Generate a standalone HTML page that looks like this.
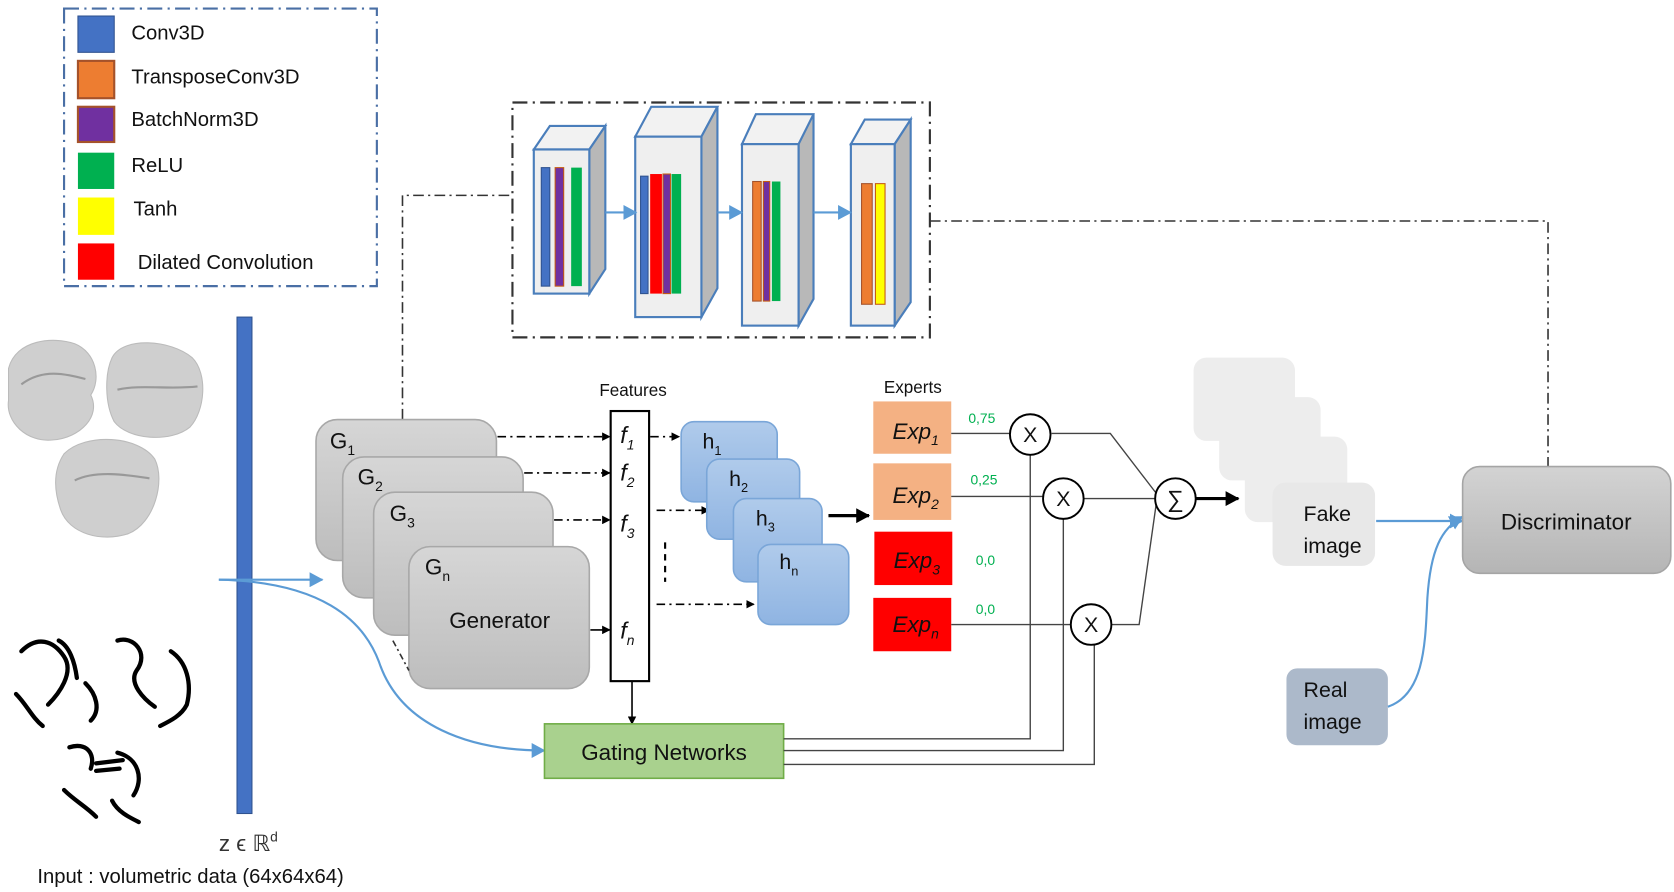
<!DOCTYPE html>
<html><head><meta charset="utf-8"><style>
html,body{margin:0;padding:0;background:#fff;}
svg{display:block;}
text{font-family:"Liberation Sans",sans-serif;}
</style></head><body>
<svg width="1674" height="892" viewBox="0 0 1568 835.5" xmlns="http://www.w3.org/2000/svg">
<defs>
<linearGradient id="gg" x1="0" y1="0" x2="0" y2="1"><stop offset="0" stop-color="#d6d6d6"/><stop offset="1" stop-color="#bdbdbd"/></linearGradient>
<linearGradient id="hb" x1="0" y1="0" x2="0" y2="1"><stop offset="0" stop-color="#b0cbeb"/><stop offset="1" stop-color="#8fb4e2"/></linearGradient>
<linearGradient id="dg" x1="0" y1="0" x2="0" y2="1"><stop offset="0" stop-color="#d3d3d3"/><stop offset="1" stop-color="#b5b5b5"/></linearGradient>
<marker id="ab" markerWidth="8" markerHeight="8" refX="7" refY="4" orient="auto" markerUnits="userSpaceOnUse"><path d="M0,0 L8,4 L0,8 z" fill="#000"/></marker>
<marker id="abl" markerWidth="14" markerHeight="14" refX="12" refY="7" orient="auto" markerUnits="userSpaceOnUse"><path d="M0,0 L13,7 L0,14 z" fill="#5b9bd5"/></marker>
<marker id="abk" markerWidth="14" markerHeight="14" refX="12" refY="7" orient="auto" markerUnits="userSpaceOnUse"><path d="M0,0 L13,7 L0,14 z" fill="#000"/></marker>
</defs>

<!-- Legend -->
<rect x="60" y="8" width="293" height="260" fill="none" stroke="#4a6fa5" stroke-width="2" stroke-dasharray="14,5,2,5"/>
<rect x="73" y="15" width="34" height="34" fill="#4472c4" stroke="#2f528f"/>
<rect x="73" y="57" width="34" height="35" fill="#ed7d31" stroke="#a5522a" stroke-width="2"/>
<rect x="73" y="100" width="34" height="33" fill="#7030a0" stroke="#a5522a" stroke-width="2"/>
<rect x="73" y="143" width="34" height="34" fill="#00b050"/>
<rect x="73" y="185" width="34" height="35" fill="#ffff00"/>
<rect x="73" y="228" width="34" height="34" fill="#ff0000"/>
<g font-size="19" fill="#111">
<text x="123" y="37">Conv3D</text>
<text x="123" y="78">TransposeConv3D</text>
<text x="123" y="118">BatchNorm3D</text>
<text x="123" y="161">ReLU</text>
<text x="125" y="202">Tanh</text>
<text x="129" y="252">Dilated Convolution</text>
</g>

<!-- Top box -->
<rect x="480" y="96" width="391" height="220" fill="none" stroke="#333" stroke-width="2" stroke-dasharray="14,5,2,5"/>
<g stroke="#4a7ebb" stroke-width="2">
<polygon points="500,140 515,118 567,118 552,140" fill="#f2f2f2"/>
<polygon points="552,140 567,118 567,252 552,275" fill="#b8b8b8"/>
<rect x="500" y="140" width="52" height="135" fill="#efefef"/>
<polygon points="595,128 610,100 672,100 657,128" fill="#f2f2f2"/>
<polygon points="657,128 672,100 672,270 657,297" fill="#b8b8b8"/>
<rect x="595" y="128" width="62" height="169" fill="#efefef"/>
<polygon points="695,135 708,107 762,107 757,135" fill="#f2f2f2"/>
<polygon points="748,135 762,107 762,280 748,305" fill="#b8b8b8"/>
<rect x="695" y="135" width="53" height="170" fill="#efefef"/>
<polygon points="797,135 810,112 853,112 838,135" fill="#f2f2f2"/>
<polygon points="838,135 853,112 853,283 838,305" fill="#b8b8b8"/>
<rect x="797" y="135" width="41" height="170" fill="#efefef"/>
</g>
<rect x="507" y="157" width="8" height="111" fill="#4472c4" stroke="#2f528f"/>
<rect x="520" y="157" width="8" height="111" fill="#7030a0" stroke="#c55a11"/>
<rect x="535" y="157" width="10" height="111" fill="#00b050"/>
<rect x="600" y="165" width="7" height="110" fill="#4472c4" stroke="#2f528f"/>
<rect x="609" y="163" width="11" height="112" fill="#ff0000"/>
<rect x="621" y="163" width="7" height="112" fill="#7030a0" stroke="#c55a11"/>
<rect x="629" y="163" width="9" height="112" fill="#00b050"/>
<rect x="705" y="170" width="8" height="112" fill="#ed7d31" stroke="#a5522a"/>
<rect x="715" y="170" width="6" height="112" fill="#7030a0" stroke="#c55a11"/>
<rect x="723" y="170" width="8" height="112" fill="#00b050"/>
<rect x="807" y="172" width="10" height="113" fill="#ed7d31" stroke="#a5522a"/>
<rect x="820" y="172" width="9" height="113" fill="#ffff00" stroke="#c55a11"/>
<g stroke="#5b9bd5" stroke-width="2" marker-end="url(#abl)">
<line x1="567" y1="199" x2="596" y2="199"/>
<line x1="672" y1="199" x2="695" y2="199"/>
<line x1="762" y1="199" x2="797" y2="199"/>
</g>

<!-- dash-dot connectors -->
<g fill="none" stroke="#333" stroke-width="1.5" stroke-dasharray="10,4,2,4">
<polyline points="377,393 377,183 480,183"/>
<polyline points="871,207 1450,207 1450,437"/>
</g>

<!-- blobs -->
<g fill="#cfcfcf" stroke="#bbb">
<path d="M8,345 C15,318 50,315 70,322 C90,330 95,355 85,370 C95,390 75,410 50,412 C25,415 5,395 8,375 Z"/>
<path d="M105,335 C115,315 160,318 180,335 C195,350 192,385 178,400 C160,415 120,412 107,395 C98,378 98,350 105,335 Z"/>
<path d="M60,425 C80,405 130,408 145,430 C155,450 145,490 120,500 C95,508 65,500 57,478 C50,458 50,440 60,425 Z"/>
</g>
<g fill="none" stroke="#999" stroke-width="2">
<path d="M20,360 C40,345 60,350 80,355"/><path d="M110,365 C130,360 160,365 185,362"/><path d="M70,450 C90,440 120,445 140,448"/>
</g>
<!-- scribbles -->
<g fill="none" stroke="#000" stroke-width="4" stroke-linecap="round">
<path d="M20,610 C35,595 50,600 60,615 C70,630 55,650 45,660"/>
<path d="M15,650 C25,660 30,672 40,680"/>
<path d="M55,600 C65,605 70,620 72,635"/>
<path d="M110,600 C125,595 140,612 128,628 C120,640 135,655 145,662"/>
<path d="M160,610 C175,620 180,640 175,660 C170,670 160,675 150,680"/>
<path d="M80,640 C90,650 95,665 85,675"/>
<path d="M65,700 C80,695 90,705 85,720"/>
<path d="M110,705 C130,710 135,730 125,745"/>
<path d="M90,715 L115,712"/><path d="M90,722 L112,720"/>
<path d="M60,740 C70,750 80,755 90,765"/>
<path d="M105,750 C110,760 120,765 130,770"/>
</g>

<!-- z bar -->
<rect x="222" y="297" width="14" height="465" fill="#4472c4" stroke="#2f528f"/>
<text x="205" y="797" font-family="Liberation Serif,serif" font-size="21" fill="#333">z ϵ ℝ<tspan font-size="13" dy="-9">d</tspan></text>
<text x="35" y="827" font-size="19" fill="#111">Input : volumetric data (64x64x64)</text>

<!-- blue arrows from z -->
<line x1="205" y1="543" x2="302" y2="543" stroke="#5b9bd5" stroke-width="2" marker-end="url(#abl)"/>
<path d="M205,543 C300,545 340,580 355,620 C375,680 440,703 510,703" fill="none" stroke="#5b9bd5" stroke-width="2" marker-end="url(#abl)"/>

<!-- Generators -->
<g stroke="#a8a8a8" stroke-width="1.5" fill="url(#gg)">
<rect x="296" y="393" width="169" height="132" rx="20"/>
<rect x="321" y="428" width="169" height="132" rx="20"/>
<rect x="350" y="461" width="168" height="134" rx="20"/>
<rect x="383" y="512" width="169" height="133" rx="20"/>
</g>
<g font-size="21" fill="#111">
<text x="309" y="420">G<tspan font-size="13" dy="6">1</tspan></text>
<text x="335" y="454">G<tspan font-size="13" dy="6">2</tspan></text>
<text x="365" y="488">G<tspan font-size="13" dy="6">3</tspan></text>
<text x="398" y="538">G<tspan font-size="13" dy="6">n</tspan></text>
<text x="468" y="588" text-anchor="middle" font-size="21">Generator</text>
</g>
<line x1="368" y1="600" x2="383" y2="628" stroke="#333" stroke-width="1.5" stroke-dasharray="6,3,2,3"/>

<!-- Features -->
<text x="593" y="371" font-size="16" text-anchor="middle" fill="#111">Features</text>
<rect x="572" y="385" width="36" height="253" fill="#fff" stroke="#000" stroke-width="2"/>
<g font-family="Liberation Serif,serif" font-style="italic" font-size="22" fill="#111">
<text x="581" y="415">f<tspan font-size="13" dy="6">1</tspan></text>
<text x="581" y="450">f<tspan font-size="13" dy="6">2</tspan></text>
<text x="581" y="498">f<tspan font-size="13" dy="6">3</tspan></text>
<text x="581" y="598">f<tspan font-size="13" dy="6">n</tspan></text>
</g>
<g stroke="#000" stroke-width="1.5" stroke-dasharray="8,4,2,4" marker-end="url(#ab)">
<line x1="466" y1="409" x2="571" y2="409"/>
<line x1="491" y1="443" x2="571" y2="443"/>
<line x1="519" y1="487" x2="571" y2="487"/>
<line x1="609" y1="409" x2="636" y2="409"/>
<line x1="615" y1="478" x2="664" y2="478"/>
<line x1="615" y1="566" x2="706" y2="566"/>
</g>
<line x1="553" y1="590" x2="571" y2="590" stroke="#000" stroke-width="1.5" marker-end="url(#ab)"/>
<line x1="623" y1="508" x2="623" y2="545" stroke="#000" stroke-width="2" stroke-dasharray="6,5"/>
<line x1="592" y1="638" x2="592" y2="678" stroke="#000" stroke-width="1.5" marker-end="url(#ab)"/>

<!-- h boxes -->
<g stroke="#7aa6d8" stroke-width="1.5" fill="url(#hb)">
<rect x="638" y="395" width="90" height="75" rx="12"/>
<rect x="662" y="430" width="87" height="75" rx="12"/>
<rect x="687" y="467" width="83" height="78" rx="12"/>
<rect x="710" y="510" width="85" height="75" rx="12"/>
</g>
<g font-size="20" fill="#111">
<text x="658" y="420">h<tspan font-size="12" dy="6">1</tspan></text>
<text x="683" y="455">h<tspan font-size="12" dy="6">2</tspan></text>
<text x="708" y="492">h<tspan font-size="12" dy="6">3</tspan></text>
<text x="730" y="533">h<tspan font-size="12" dy="6">n</tspan></text>
</g>
<line x1="776" y1="483" x2="814" y2="483" stroke="#000" stroke-width="3" marker-end="url(#abk)"/>

<!-- Gating -->
<rect x="510" y="678" width="224" height="51" fill="#a9d18e" stroke="#70ad47" stroke-width="1.5"/>
<text x="622" y="712" font-size="21" text-anchor="middle" fill="#111">Gating Networks</text>

<!-- Experts -->
<text x="855" y="368" font-size="16" text-anchor="middle" fill="#111">Experts</text>
<rect x="818" y="376" width="73" height="49" fill="#f4b183"/>
<rect x="818" y="434" width="73" height="53" fill="#f4b183"/>
<rect x="819" y="498" width="73" height="50" fill="#ff0000"/>
<rect x="818" y="560" width="73" height="50" fill="#ff0000"/>
<g font-style="italic" font-size="21" fill="#111">
<text x="836" y="411">Exp<tspan font-size="13" dy="6">1</tspan></text>
<text x="836" y="471">Exp<tspan font-size="13" dy="6">2</tspan></text>
<text x="837" y="532">Exp<tspan font-size="13" dy="6">3</tspan></text>
<text x="836" y="592">Exp<tspan font-size="13" dy="6">n</tspan></text>
</g>
<g font-size="13" fill="#00b050">
<text x="907" y="396">0,75</text>
<text x="909" y="454">0,25</text>
<text x="914" y="529">0,0</text>
<text x="914" y="575">0,0</text>
</g>

<!-- lines -->
<g fill="none" stroke="#444" stroke-width="1.3">
<line x1="891" y1="406" x2="946" y2="406"/>
<line x1="891" y1="465" x2="977" y2="465"/>
<line x1="891" y1="585" x2="1003" y2="585"/>
<polyline points="985,406 1040,406 1083,462"/>
<line x1="1015" y1="467" x2="1082" y2="467"/>
<polyline points="1041,585 1067,585 1083,472"/>
<polyline points="734,692 965,692 965,426"/>
<polyline points="734,703 996,703 996,486"/>
<polyline points="734,716 1025,716 1025,604"/>
</g>
<g fill="#fff" stroke="#000" stroke-width="1.8">
<circle cx="965" cy="407" r="19"/>
<circle cx="996" cy="467" r="19"/>
<circle cx="1022" cy="585" r="19"/>
<circle cx="1101" cy="467" r="19"/>
</g>
<g font-size="20" text-anchor="middle" fill="#111">
<text x="965" y="414">X</text>
<text x="996" y="474">X</text>
<text x="1022" y="592">X</text>
<text x="1101" y="475" font-size="22">∑</text>
</g>

<!-- Fake image stack -->
<g fill="#ededed">
<rect x="1118" y="335" width="95" height="78" rx="12"/>
<rect x="1142" y="372" width="95" height="78" rx="12"/>
<rect x="1166" y="409" width="96" height="80" rx="12"/>
<rect x="1192" y="452" width="96" height="78" rx="12" fill="#e8e8e8"/>
</g>
<line x1="1120" y1="467" x2="1160" y2="467" stroke="#000" stroke-width="3" marker-end="url(#abk)"/>
<text x="1221" y="488" font-size="20" fill="#111">Fake</text>
<text x="1221" y="518" font-size="20" fill="#111">image</text>
<line x1="1289" y1="488" x2="1370" y2="488" stroke="#5b9bd5" stroke-width="2" marker-end="url(#abl)"/>

<!-- Real image -->
<rect x="1205" y="626" width="95" height="72" rx="10" fill="#acb9ca"/>
<text x="1221" y="653" font-size="20" fill="#111">Real</text>
<text x="1221" y="683" font-size="20" fill="#111">image</text>
<path d="M1300,662 C1335,650 1335,600 1337,560 C1340,515 1350,495 1370,484" fill="none" stroke="#5b9bd5" stroke-width="2" marker-end="url(#abl)"/>

<!-- Discriminator -->
<rect x="1370" y="437" width="195" height="100" rx="16" fill="url(#dg)" stroke="#a5a5a5" stroke-width="1.5"/>
<text x="1467" y="496" font-size="21" text-anchor="middle" fill="#111">Discriminator</text>
</svg>
</body></html>
